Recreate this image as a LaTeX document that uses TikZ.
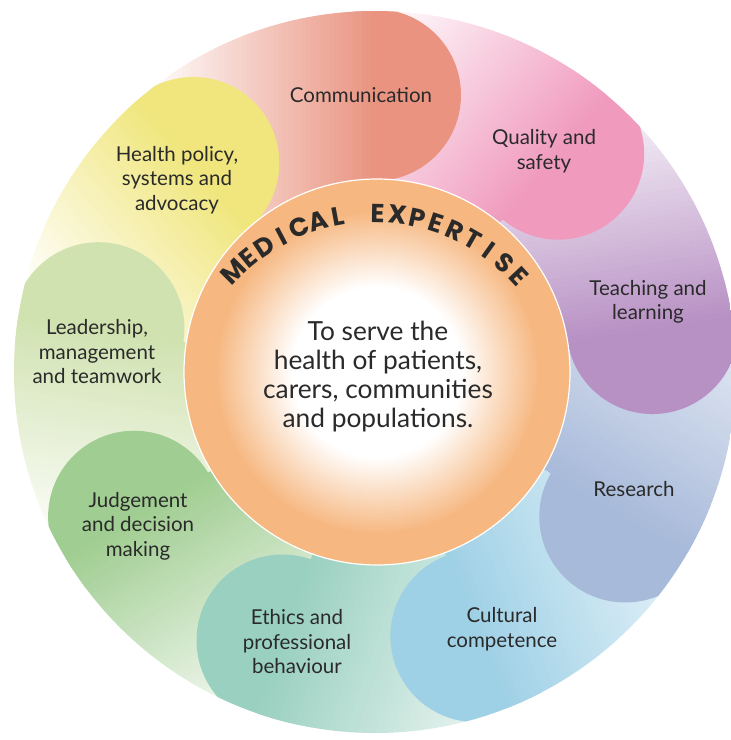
\documentclass[tikz,border=0pt]{standalone}
\usepackage{fontspec}
\setmainfont{Lato}
\newfontfamily\arcfam{Poppins}
\definecolor{cComm}{HTML}{E99380}
\definecolor{cQual}{HTML}{F09BBE}
\definecolor{cTeach}{HTML}{B891C4}
\definecolor{cRes}{HTML}{A8BADA}
\definecolor{cCult}{HTML}{9ED0E6}
\definecolor{cEth}{HTML}{9AD0C0}
\definecolor{cJudg}{HTML}{A0CD91}
\definecolor{cLead}{HTML}{D0E2B0}
\definecolor{cHeal}{HTML}{F0E67D}
\definecolor{orng}{HTML}{F6B780}
\definecolor{txt}{HTML}{2A2A2A}
\newcommand{\arcfont}{\arcfam\bfseries\fontsize{26}{26}\selectfont}
\newcommand{\arcr}{189.6}
\newcommand{\arcletters}{M,E,D,I,C,A,L,~,E,X,P,E,R,T,I,S,E}
\newlength{\chw}
\pgfdeclareradialshading{innerglow}{\pgfpoint{0bp}{0bp}}{color(0bp)=(white); color(11bp)=(white); color(21bp)=(orng); color(25bp)=(orng); color(50bp)=(orng)}
\tikzset{
  lbl/.style={text=txt, align=center, font=\fontsize{20.5}{24.5}\selectfont, inner sep=0pt},
  ctr/.style={text=txt, align=center, font=\fontsize{26.3}{29}\selectfont, inner sep=0pt},
  arcch/.style={text=txt, font=\arcfont, anchor=base, inner sep=0pt},
}
\newcommand{\gradstrips}[2]{%
  \pgfmathsetmacro{\stripw}{#2/50}
  \fill[#1] (0pt,-20pt) rectangle (200pt,450pt);
  \foreach \k in {0,...,49}{
    \pgfmathsetmacro{\pct}{100-2*(\k+0.5)}
    \fill[#1!\pct!white] ({-\stripw*\k+0.4},-20) rectangle ({-\stripw*(\k+1)},450);
  }
  \fill[white] ({-#2},-20) rectangle (-480,450);
}
\newcommand{\petallist}{90/131/277/cComm/230, 50/90/285/cQual/230, 9/50/281/cTeach/250, -30/9/289/cRes/320, -69/-30/283/cCult/300, -109/-69/284/cEth/280, -149/-109/281/cJudg/250, 171/211/280/cLead/230, 131/171/277/cHeal/210}
\begin{document}
\begin{tikzpicture}[x=1pt,y=1pt]
\useasboundingbox (-375,-368) rectangle (356,372);
\begin{scope}
  \clip (0,0) circle (361pt);
  % tails
  \foreach \ang/\nxt/\rad/\col/\dd in \petallist{
    \begin{scope}
      \clip (0,0) -- (\ang:430pt) arc[start angle=\ang, end angle=\nxt, radius=430pt] -- cycle;
      \begin{scope}[rotate=\ang-90]
        \gradstrips{\col}{\dd}
      \end{scope}
    \end{scope}
  }
  % heads
  \foreach \ang/\nxt/\rad/\col/\dd in \petallist{
    \begin{scope}
      \clip (\ang:\rad pt) circle (86pt);
      \begin{scope}[rotate=\ang-90]
        \gradstrips{\col}{\dd}
      \end{scope}
    \end{scope}
  }
\end{scope}
% core
\node[circle, minimum size=386pt, inner sep=0pt, shade, shading=innerglow, draw=white, line width=1.2pt] (core) at (2,0) {};
% arc title, letter by letter
\xdef\natw{0}
\foreach \ch in \arcletters {
  \settowidth{\chw}{\arcfont \ch}
  \pgfmathsetmacro{\tmpw}{\natw+\chw}
  \xdef\natw{\tmpw}
}
\pgfmathsetmacro{\spanlen}{92*pi/180*\arcr}
\pgfmathsetmacro{\trk}{max(0,(\spanlen-\natw)/16)}
\pgfmathsetmacro{\startang}{89+(\natw+16*\trk)/2/\arcr*180/pi}
\xdef\arccum{0}
\foreach \ch [count=\i] in \arcletters {
  \settowidth{\chw}{\arcfont \ch}
  \pgfmathsetmacro{\angl}{\startang-(\arccum+\chw/2)/\arcr*180/pi}
  \node[arcch, rotate=\angl-90] (arc\i) at ({-1+\arcr*cos(\angl)},{-40+\arcr*sin(\angl)}) {\ch};
  \pgfmathsetmacro{\tmpw}{\arccum+\chw+\trk}
  \xdef\arccum{\tmpw}
}
\node[ctr] (mission) at (3,-5) {To serve the\\health of patients,\\carers, communities\\and populations.};
% labels
\node[lbl] (comm) at (-14,277) {Communication};
\node[lbl] (qual) at (169,221) {Quality and\\safety};
\node[lbl] (teach) at (273,70) {Teaching and\\learning};
\node[lbl] (res) at (259,-117.5) {Research};
\node[lbl] (cult) at (127,-257) {Cultural\\competence};
\node[lbl] (eth) at (-78,-270) {Ethics and\\professional\\behaviour};
\node[lbl] (judg) at (-237,-154) {Judgement\\and decision\\making};
\node[lbl] (lead) at (-278,20) {Leadership,\\management\\and teamwork};
\node[lbl] (heal) at (-198,192) {Health policy,\\systems and\\advocacy};
\end{tikzpicture}
\end{document}
